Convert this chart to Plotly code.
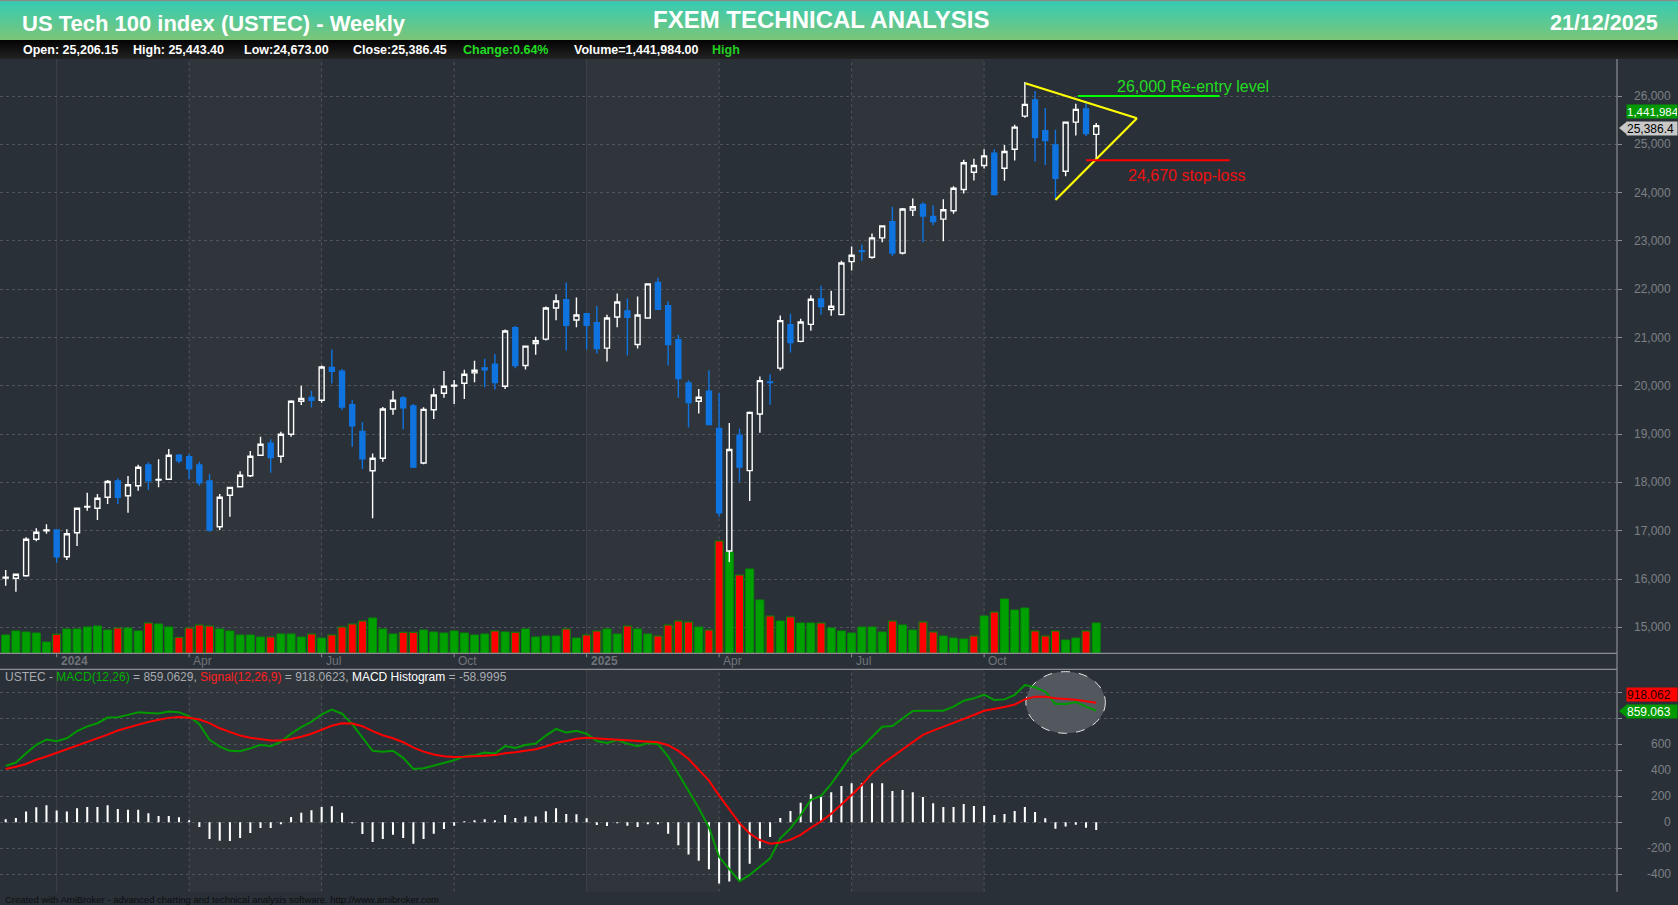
import plotly.graph_objects as go
import pandas as pd

W, H = 1678, 905

# ---------------- data ----------------
weeks = list(pd.date_range("2023-12-01", periods=108, freq="7D"))

opens = [16020, 16014, 16068, 16822, 17000, 17015, 16462, 16959, 17490, 17464,
         17694, 18029, 17725, 17932, 18360, 18050, 18064, 18561, 18532, 18360,
         18029, 17083, 17733, 17911, 18139, 18561, 18810, 18540, 18996, 19680,
         19760, 19700, 20380, 20300, 19610, 19053, 18242, 18499, 19520, 19748,
         19581, 18403, 19505, 19845, 19995, 20053, 20268, 20372, 20448, 19990,
         21203, 20420, 20877, 20967, 21612, 21785, 21362, 21494, 21307, 20780,
         21425, 21549, 20856, 21404, 22139, 21660, 20954, 20060, 19679, 19887,
         19117, 16580, 18978, 18244, 19415, 20080, 20365, 21265, 20920, 21272,
         21799, 21577, 21473, 22570, 22795, 22660, 23062, 23396, 22750, 23638,
         23757, 23507, 23451, 23625, 24063, 24420, 24560, 24818, 24503, 24898,
         25584, 25917, 25279, 24988, 24441, 25459, 25730, 25206.15]
highs = [16186, 16110, 16863, 17050, 17132, 17020, 17029, 17470, 17787, 17760,
         18050, 18085, 18132, 18367, 18416, 18478, 18691, 18588, 18588, 18429,
         18174, 17760, 17905, 18230, 18650, 18946, 18892, 19050, 19700, 20000,
         19900, 20420, 20750, 20350, 19700, 19250, 18600, 19560, 19900, 19790,
         19623, 19554, 19949, 20309, 20122, 20330, 20517, 20559, 20656, 21168,
         21238, 20830, 21016, 21640, 21896, 22139, 21827, 21500, 21653, 21473,
         21910, 21806, 21847, 22125, 22236, 21750, 21058, 20115, 19935, 20323,
         19852, 19228, 19117, 19470, 20191, 20240, 21453, 21494, 21390, 21876,
         22070, 21966, 22590, 22882, 22924, 23153, 23320, 23708, 23680, 23880,
         23798, 23736, 23860, 24130, 24680, 24700, 24900, 24900, 24988, 25404,
         26291, 26104, 25751, 25300, 25470, 25841, 25875, 25443.40]
lows = [15861, 15737, 16048, 16780, 16938, 16337, 16393, 16683, 17414, 17222,
        17553, 17553, 17373, 17828, 17842, 17898, 18050, 18395, 18064, 17932,
        16979, 17015, 17290, 17900, 18112, 18550, 18201, 18408, 18946, 19600,
        19550, 19650, 20050, 19500, 18739, 18277, 17257, 18429, 19400, 19103,
        18300, 18376, 19311, 19755, 19623, 19727, 20074, 19970, 19921, 19935,
        20365, 20337, 20642, 20940, 21355, 20732, 21210, 20752, 20669, 20503,
        21210, 20627, 20770, 21390, 21570, 20420, 19755, 19138, 19429, 19190,
        17287, 16352, 18015, 17613, 19027, 19609, 20316, 20690, 20900, 21140,
        21473, 21452, 21460, 22389, 22590, 22630, 22972, 22688, 22720, 23514,
        22972, 23326, 22993, 23560, 23980, 24250, 24500, 23940, 24247, 24663,
        25550, 24642, 24572, 23866, 24337, 25182, 25168, 24673.00]
closes = [16035, 16097, 16822, 16967, 17015, 16462, 16938, 17464, 17500, 17671,
          18019, 17694, 17950, 18313, 18035, 18060, 18561, 18449, 18284, 17994,
          17015, 17692, 17898, 18147, 18540, 18789, 18512, 18996, 19680, 19740,
          19700, 20390, 20300, 19560, 19170, 18488, 18499, 19520, 19700, 19547,
          18320, 19512, 19810, 19990, 20010, 20240, 20323, 20330, 20067, 21134,
          20420, 20822, 20933, 21612, 21757, 21252, 21466, 21252, 20773, 21404,
          21736, 21418, 21466, 22111, 21584, 20856, 20150, 19651, 19762, 19200,
          17370, 18680, 18320, 19450, 20108, 20068, 21349, 20898, 21320, 21793,
          21640, 21647, 22542, 22702, 22780, 23062, 23312, 22750, 23659, 23708,
          23514, 23402, 23645, 24090, 24617, 24560, 24760, 23960, 24850, 25355,
          25827, 25141, 25078, 24295, 25459, 25723, 25224, 25386.45]
volumes = [871000, 1061000, 1014000, 966000, 538000, 904000, 1156000, 1156000, 1252000, 1299000,
           1109000, 1204000, 1204000, 1061000, 1442000, 1394000, 1252000, 761000, 1204000, 1347000,
           1299000, 1156000, 1061000, 871000, 871000, 776000, 776000, 918000, 918000, 776000,
           918000, 728000, 871000, 1252000, 1394000, 1537000, 1680000, 1156000, 918000, 999000,
           999000, 1109000, 1014000, 966000, 1061000, 966000, 871000, 918000, 1061000, 1014000,
           999000, 1156000, 776000, 823000, 823000, 1156000, 728000, 871000, 1061000, 1156000,
           918000, 1299000, 1156000, 918000, 823000, 1347000, 1537000, 1490000, 1252000, 1109000,
           5344000, 4820000, 3726000, 4012000, 2537000, 1775000, 1537000, 1728000, 1442000, 1442000,
           1442000, 1204000, 1061000, 966000, 1252000, 1252000, 1014000, 1537000, 1347000, 1109000,
           1490000, 1014000, 823000, 728000, 681000, 823000, 1775000, 1965000, 2584000, 2061000,
           2156000, 1061000, 823000, 1061000, 633000, 728000, 1061000, 1441984]
macd = [433, 459, 530, 595, 636, 623, 645, 701, 737, 761,
        804, 807, 825, 845, 840, 836, 851, 846, 813, 753,
        634, 581, 549, 546, 568, 595, 585, 618, 680, 731,
        772, 829, 865, 834, 754, 648, 549, 541, 550, 495,
        410, 415, 434, 457, 476, 507, 514, 535, 528, 586,
        571, 593, 605, 666, 717, 689, 702, 680, 624, 609,
        631, 604, 585, 609, 600, 505, 371, 238, 110, -40,
        -265, -360, -452, -404, -338, -277, -123, -47, 55, 173,
        202, 295, 405, 517, 576, 653, 734, 740, 799, 855,
        857, 857, 857, 888, 934, 952, 980, 939, 944, 978,
        1054, 1037, 1003, 909, 909, 924, 888, 859.0629]
signal = [410, 426, 448, 480, 505, 533, 563, 593, 619, 643,
          673, 705, 728, 748, 771, 787, 802, 808, 803, 789,
          762, 722, 692, 666, 650, 639, 629, 628, 639, 657,
          680, 711, 742, 760, 759, 738, 700, 669, 645, 615,
          574, 543, 521, 508, 502, 504, 506, 512, 516, 530,
          538, 549, 561, 582, 609, 625, 641, 649, 644, 637,
          636, 630, 621, 619, 615, 592, 548, 486, 405, 320,
          205, 95, -6, -86, -136, -164, -156, -134, -96, -42,
          7, 65, 135, 210, 286, 376, 448, 504, 560, 619,
          671, 704, 734, 760, 791, 824, 857, 870, 886, 904,
          944, 965, 965, 952, 947, 942, 929, 918.0623]
hist = [23, 33, 82, 115, 131, 90, 82, 108, 118, 118,
        131, 102, 97, 97, 69, 49, 49, 38, 10, -36,
        -128, -141, -143, -120, -82, -44, -44, -10, 41, 74,
        92, 118, 123, 74, -5, -90, -151, -128, -95, -120,
        -164, -128, -87, -51, -26, 3, 8, 23, 12, 56,
        33, 44, 44, 84, 108, 64, 61, 31, -20, -28,
        -5, -26, -36, -10, -15, -87, -177, -248, -295, -360,
        -470, -455, -446, -318, -202, -113, 33, 87, 151, 215,
        195, 230, 279, 300, 300, 300, 300, 241, 248, 230,
        195, 146, 118, 118, 141, 125, 125, 56, 64, 87,
        118, 79, 31, -49, -33, -18, -41, -58.9995]

price_ticks = [15000, 16000, 17000, 18000, 19000, 20000, 21000, 22000, 23000, 24000, 25000, 26000]
macd_ticks = [-400, -200, 0, 200, 400, 600, 800, 1000]
macd_tick_labels_shown = [-400, -200, 0, 200, 400, 600]   # 800 / 1,000 are hidden behind the value boxes
reentry_level = 26000
stop_level = 24670

# ---------------- styling helpers ----------------
BG = "#2a3037"
BAND = "#2f353b"
GRID = "#50555c"
AXIS = "#8a8e94"
LABEL = "#7c8086"
BLUE = "#0f74e0"
VGREEN = "#008c00"
FONT = "Liberation Sans, Arial, sans-serif"

base = weeks[0]
WEEK_MS = 7 * 86400000


def at(i):
    return (base + pd.Timedelta(days=7 * i)).strftime("%Y-%m-%d %H:%M:%S")


def px(x):
    return x / W


def py(y):
    return 1 - y / H


PANE_TOP, PANE_BOT = 59.0, 653.3
MACD_TOP, MACD_BOT = 669.3, 891.7
X_RIGHT = 1617.0
VMAX = 594.3 / 30.3 * 1441984

# tick positions = first bar of each quarter month
tick_idx, tick_txt = [], []
for i, d in enumerate(weeks):
    if i > 0 and d.month in (1, 4, 7, 10) and weeks[i - 1].month != d.month:
        tick_idx.append(i)
        tick_txt.append(str(d.year) if d.month == 1 else d.strftime("%b"))

vol_colors = ["#00a000"] + ["#00a000" if closes[i] >= closes[i - 1] else "#ff0000"
                            for i in range(1, len(closes))]

fig = go.Figure()

fig.add_trace(go.Bar(x=weeks, y=volumes, xaxis="x", yaxis="y",
                     marker=dict(color=vol_colors, line=dict(color=VGREEN, width=1)),
                     width=0.78 * WEEK_MS, hoverinfo="skip", showlegend=False))

fig.add_trace(go.Candlestick(x=weeks, open=opens, high=highs, low=lows, close=closes,
                             xaxis="x", yaxis="y2", whiskerwidth=0,
                             increasing=dict(line=dict(color="#ffffff", width=1.4),
                                             fillcolor="rgba(0,0,0,0)"),
                             decreasing=dict(line=dict(color=BLUE, width=1.4), fillcolor=BLUE),
                             hoverinfo="skip", showlegend=False))

fig.add_trace(go.Bar(x=weeks, y=hist, xaxis="x2", yaxis="y3",
                     marker=dict(color="#ffffff", line=dict(width=0)),
                     width=0.2 * WEEK_MS, hoverinfo="skip", showlegend=False))
fig.add_trace(go.Scatter(x=weeks, y=macd, xaxis="x2", yaxis="y3", mode="lines",
                         line=dict(color="#009a00", width=2), hoverinfo="skip", showlegend=False))
fig.add_trace(go.Scatter(x=weeks, y=signal, xaxis="x2", yaxis="y3", mode="lines",
                         line=dict(color="#ff0000", width=2), hoverinfo="skip", showlegend=False))

shapes = []
ann = []

# header gradient
top_c, bot_c = (52, 204, 181), (123, 197, 120)
for k in range(40):
    t = k / 39
    c = tuple(round(top_c[j] + (bot_c[j] - top_c[j]) * t) for j in range(3))
    shapes.append(dict(type="rect", xref="paper", yref="paper", x0=0, x1=1,
                       y0=py(k + 1), y1=py(k), fillcolor="rgb(%d,%d,%d)" % c,
                       line=dict(width=0), layer="below"))
shapes.append(dict(type="rect", xref="paper", yref="paper", x0=0, x1=1, y0=py(1.2), y1=1,
                   fillcolor="#8a8a8a", line=dict(width=0), layer="below"))
# info bar gradient
for k in range(19):
    t = k / 18
    v = round(4 + 30 * t)
    shapes.append(dict(type="rect", xref="paper", yref="paper", x0=0, x1=1,
                       y0=py(40 + k + 1), y1=py(40 + k), fillcolor="rgb(%d,%d,%d)" % (v, v, v),
                       line=dict(width=0), layer="below"))

# quarter bands (lighter)
band_pairs = [(1, 2), (4, 5), (6, 7)]
for a, b in band_pairs:
    for (t0, t1) in [(PANE_TOP, PANE_BOT), (MACD_TOP, MACD_BOT)]:
        shapes.append(dict(type="rect", xref="x", yref="paper", x0=at(tick_idx[a]), x1=at(tick_idx[b]),
                           y0=py(t1), y1=py(t0), fillcolor=BAND, line=dict(width=0), layer="below"))

# vertical grid lines at ticks
for i, t in zip(tick_idx, tick_txt):
    year = t.isdigit()
    for (t0, t1) in [(PANE_TOP, PANE_BOT), (MACD_TOP, MACD_BOT)]:
        shapes.append(dict(type="line", xref="x", yref="paper", x0=at(i), x1=at(i),
                           y0=py(t1), y1=py(t0),
                           line=dict(color="#40444a" if year else GRID, width=1,
                                     dash="solid" if year else "dot"), layer="below"))
    shapes.append(dict(type="line", xref="x", yref="paper", x0=at(i), x1=at(i),
                       y0=py(PANE_BOT), y1=py(PANE_BOT + 4), line=dict(color=AXIS, width=1)))
    ann.append(dict(xref="x", yref="paper", x=at(i), y=py(661), xanchor="left", yanchor="middle",
                    xshift=2, showarrow=False, text=("<b>%s</b>" % t) if year else t,
                    font=dict(family=FONT, size=12, color="#6f737a")))

# axis frame lines
shapes.append(dict(type="line", xref="paper", yref="paper", x0=px(X_RIGHT), x1=px(X_RIGHT),
                   y0=py(MACD_BOT), y1=py(PANE_TOP), line=dict(color=AXIS, width=1.2), layer="above"))
for yy in (PANE_BOT, MACD_TOP):
    shapes.append(dict(type="line", xref="paper", yref="paper", x0=0, x1=px(X_RIGHT),
                       y0=py(yy), y1=py(yy), line=dict(color=AXIS, width=1.2), layer="above"))

# triangle and levels
shapes.append(dict(type="line", xref="x", yref="y2", x0=at(100.05), y0=26265, x1=at(111.0), y1=25538,
                   line=dict(color="#ffff00", width=2.2), layer="above"))
shapes.append(dict(type="line", xref="x", yref="y2", x0=at(103.0), y0=23846, x1=at(111.0), y1=25538,
                   line=dict(color="#ffff00", width=2.2), layer="above"))
shapes.append(dict(type="line", xref="x", yref="y2", x0=at(105.2), x1=at(119.1), y0=reentry_level,
                   y1=reentry_level, line=dict(color="#00ff00", width=2), layer="above"))
shapes.append(dict(type="line", xref="x", yref="y2", x0=at(106.0), x1=at(120.1), y0=stop_level,
                   y1=stop_level, line=dict(color="#ff0000", width=2), layer="above"))
ann.append(dict(xref="paper", yref="paper", x=px(1192.8), y=py(86), xanchor="center", yanchor="middle",
                showarrow=False, text="26,000 Re-entry level",
                font=dict(family=FONT, size=16, color="#22dd22")))
ann.append(dict(xref="paper", yref="paper", x=px(1186.3), y=py(175), xanchor="center", yanchor="middle",
                showarrow=False, text="24,670 stop-loss",
                font=dict(family=FONT, size=16, color="#ee1111")))

# ellipse in MACD pane
shapes.append(dict(type="circle", xref="x2", yref="y3", x0=at(100.1), x1=at(107.9), y0=683.6, y1=1157,
                   fillcolor="rgba(140,142,148,0.42)", line=dict(color="#e6e6e6", width=1, dash="dash"),
                   layer="below"))

# y tick labels
for v in price_ticks:
    ann.append(dict(xref="paper", yref="y2", x=px(1673), y=v, xanchor="right", yanchor="middle",
                    showarrow=False, text="{:,}".format(v), font=dict(family=FONT, size=12, color=LABEL)))
for v in macd_tick_labels_shown:
    ann.append(dict(xref="paper", yref="y3", x=px(1673), y=v, xanchor="right", yanchor="middle",
                    showarrow=False, text="{:,}".format(v), font=dict(family=FONT, size=12, color=LABEL)))


def value_box(yc, text, bg, fg, arrow, wid=50, size=12):
    if arrow:
        shapes.append(dict(type="path", xref="paper", yref="paper",
                           path="M %f,%f L %f,%f L %f,%f Z" % (px(1619), py(yc), px(1627), py(yc - 6.5),
                                                              px(1627), py(yc + 6.5)),
                           fillcolor=bg, line=dict(width=0), layer="above"))
    ann.append(dict(xref="paper", yref="paper", x=px(1626), y=py(yc), xanchor="left", yanchor="middle",
                    showarrow=False, text=text, bgcolor=bg, width=wid, height=13, align="left",
                    borderpad=0, font=dict(family=FONT, size=size, color=fg)))


value_box(112, "{:,}".format(volumes[-1]), "#009a00", "#ffffff", False, 50, 11.5)
value_box(128, "{:,.1f}".format(closes[-1] - 0.05), "#c8c8c8", "#000000", True, 50)
value_box(694, "{:.3f}".format(signal[-1]), "#ff0000", "#200000", False, 50)
value_box(711, "{:.3f}".format(macd[-1]), "#009a00", "#ffffff", True, 50)

# header texts
ann.append(dict(xref="paper", yref="paper", x=px(20), y=py(23), xanchor="left", yanchor="middle",
                showarrow=False, text="<b>US Tech 100 index (USTEC) - Weekly</b>",
                font=dict(family=FONT, size=22, color="#ffffff")))
ann.append(dict(xref="paper", yref="paper", x=px(821), y=py(20), xanchor="center", yanchor="middle",
                showarrow=False, text="<b>FXEM TECHNICAL ANALYSIS</b>",
                font=dict(family=FONT, size=24, color="#ffffff")))
ann.append(dict(xref="paper", yref="paper", x=px(1660), y=py(23), xanchor="right", yanchor="middle",
                showarrow=False, text="<b>21/12/2025</b>", font=dict(family=FONT, size=21.5, color="#ffffff")))

info = [(21.4, "Open: 25,206.15", "#ffffff"), (130.6, "High: 25,443.40", "#ffffff"),
        (241.9, "Low:24,673.00", "#ffffff"), (351, "Close:25,386.45", "#ffffff"),
        (461.3, "Change:0.64%", "#22dd22"), (571.5, "Volume=1,441,984.00", "#ffffff"),
        (709.6, "High", "#22cc22")]
for x0, t, c in info:
    ann.append(dict(xref="paper", yref="paper", x=px(x0), y=py(50), xanchor="left", yanchor="middle",
                    showarrow=False, text="<b>%s</b>" % t, font=dict(family=FONT, size=12.5, color=c)))

legend_txt = ('<span style="color:#a8abb0">USTEC - </span><span style="color:#00b000">MACD(12,26)</span>'
              '<span style="color:#a8abb0"> = 859.0629, </span><span style="color:#ff2020">Signal(12,26,9)</span>'
              '<span style="color:#a8abb0"> = 918.0623, </span><span style="color:#ffffff">MACD Histogram</span>'
              '<span style="color:#a8abb0"> = -58.9995</span>')
ann.append(dict(xref="paper", yref="paper", x=px(3), y=py(677), xanchor="left", yanchor="middle",
                showarrow=False, text=legend_txt, font=dict(family=FONT, size=12, color="#a8abb0")))

ann.append(dict(xref="paper", yref="paper", x=px(3), y=py(899), xanchor="left", yanchor="middle",
                showarrow=False,
                text="Created with AmiBroker - advanced charting and technical analysis software. http://www.amibroker.com",
                font=dict(family=FONT, size=9.5, color="#0c0e10")))

xr = [at(-0.56), at(158.1)]
fig.update_layout(
    width=W, height=H, margin=dict(l=0, r=0, t=0, b=0, autoexpand=False),
    paper_bgcolor=BG, plot_bgcolor="rgba(0,0,0,0)",
    showlegend=False, hovermode=False,
    xaxis=dict(domain=[0, px(X_RIGHT)], range=xr, type="date", anchor="y",
               rangeslider=dict(visible=False),
               showticklabels=False, showgrid=False, zeroline=False, showline=False, ticks=""),
    xaxis2=dict(domain=[0, px(X_RIGHT)], range=xr, type="date", anchor="y3",
                rangeslider=dict(visible=False),
                showticklabels=False, showgrid=False, zeroline=False, showline=False, ticks=""),
    yaxis=dict(domain=[py(PANE_BOT), py(PANE_TOP)], range=[0, VMAX], visible=False, anchor="x"),
    yaxis2=dict(domain=[py(PANE_BOT), py(PANE_TOP)], overlaying="y", side="right", anchor="x",
                range=[15000 - 26.0 / 0.0483, 15000 + (627.3 - PANE_TOP) / 0.0483],
                tickvals=price_ticks, showticklabels=False, ticks="outside", ticklen=4,
                tickcolor=AXIS, showgrid=True, gridcolor=GRID, griddash="dot", gridwidth=1,
                zeroline=False, showline=False),
    yaxis3=dict(domain=[py(MACD_BOT), py(MACD_TOP)], side="right", anchor="x2",
                range=[-533, 1175], tickvals=macd_ticks, showticklabels=False, ticks="outside",
                ticklen=4, tickcolor=AXIS, showgrid=True, gridcolor=GRID, griddash="dot",
                gridwidth=1, zeroline=False, showline=False),
    shapes=shapes, annotations=ann, barmode="overlay",
)

fig.write_html("out.html", config={"displayModeBar": False},
               post_script="document.body.style.margin='0';document.body.style.overflow='hidden';")
